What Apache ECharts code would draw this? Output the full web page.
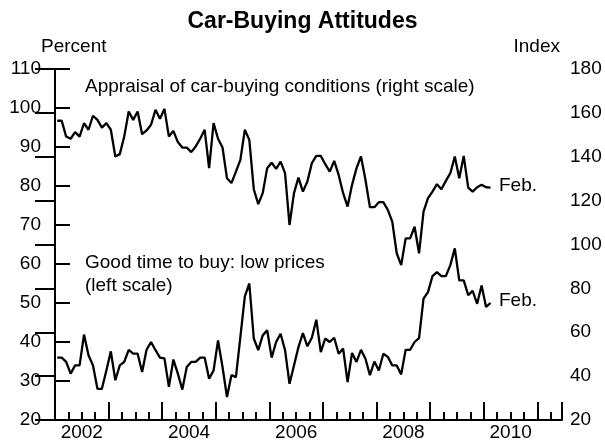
<!DOCTYPE html>
<html>
<head>
<meta charset="utf-8">
<script src="https://cdn.jsdelivr.net/npm/echarts@6/dist/echarts.min.js"></script>
<style>
html,body{margin:0;padding:0;background:#fff;}
#c{width:605px;height:442px;}
</style>
</head>
<body>
<div id="c"></div>
<script>
// Monthly observations, Jan 2002 .. Feb 2010
const startYear = 2002;
const appraisal = [
  156.4,156.4,149.2,148.2,151.2,149.2,155.3,152.3,158.7,156.8,153.3,155.3,
  152.3,140.1,141.2,149.2,160.6,156.8,160.6,150.3,152.0,154.6,161.4,157.3,
  161.8,149.2,151.8,146.7,144.2,144.2,142.1,144.7,148.2,152.3,134.8,155.3,
  148.2,144.2,130.2,128.0,133.2,138.6,152.3,147.7,125.2,118.4,123.4,134.8,
  137.3,134.5,137.8,132.5,108.9,123.4,130.5,124.1,128.7,137.1,140.4,140.4,
  136.6,133.2,138.1,131.7,123.4,117.3,127.2,134.8,140.1,129.5,117.0,117.0,
  119.3,119.3,115.8,110.4,96.0,90.6,102.8,102.8,108.1,96.0,115.0,121.1,
  124.1,127.5,125.2,129.0,132.5,140.1,130.2,140.4,125.9,124.1,126.1,127.2,
  126.1,125.9
];
const lowPrices = [
  36.0,36.0,34.9,31.9,34.0,34.0,41.9,36.6,34.0,28.0,28.0,32.7,
  37.6,30.2,34.0,34.9,38.0,37.0,37.0,32.3,38.0,40.0,37.9,36.0,
  35.8,28.5,35.5,31.9,27.8,33.6,34.9,34.9,36.0,36.0,30.6,32.7,
  40.4,33.6,25.9,31.5,31.0,41.3,51.7,55.0,40.9,37.9,41.7,43.0,
  36.0,40.0,42.1,37.9,29.3,34.0,38.7,42.3,38.9,41.1,45.7,37.4,
  40.9,40.0,41.1,37.0,38.3,29.7,37.2,34.9,38.0,35.7,31.5,35.0,
  32.7,37.0,36.2,34.0,34.0,31.7,38.0,38.0,40.0,41.0,51.1,52.8,
  56.9,57.9,56.9,56.9,59.7,64.0,55.8,55.8,52.0,53.1,49.8,54.5,
  49.0,50.0
];
const months = appraisal.map((_, i) => {
  const y = startYear + Math.floor(i / 12), m = (i % 12) + 1;
  return y + '-' + (m < 10 ? '0' + m : m);
});
const xTickLabels = ['2002','2004','2006','2008','2010'];
const leftTicks = [20,30,40,50,60,70,80,90,100,110];
const rightTicks = [20,40,60,80,100,120,140,160,180];

const FONT = 'Liberation Sans, Arial, Helvetica, sans-serif';
const xMax = 113.5;
const monthPos = i => i + 0.5;
const appraisalData = appraisal.map((v, i) => [monthPos(i), v]);
const lowData = lowPrices.map((v, i) => [monthPos(i), v]);

const blk = '#000';
const FS = 19;
const xBase = {type: 'value', min: 0, max: xMax, gridIndex: 0, position: 'bottom', splitLine: {show: false}};

const chart = echarts.init(document.getElementById('c'), null, {renderer: 'canvas'});
chart.setOption({
  animation: false,
  backgroundColor: '#fff',
  title: {
    text: 'Car-Buying Attitudes', left: 'center', top: 5,
    textStyle: {fontFamily: FONT, fontWeight: 'bold', fontSize: 23, color: blk}
  },
  grid: {left: 55, right: 43, top: 69, bottom: 22, containLabel: false},
  xAxis: [
    Object.assign({}, xBase, {
      interval: 3,
      axisLine: {show: true, lineStyle: {color: blk, width: 2}},
      axisTick: {show: true, inside: true, length: 8, lineStyle: {color: blk, width: 2}},
      axisLabel: {show: false}
    }),
    Object.assign({}, xBase, {
      interval: 12,
      axisLine: {show: false},
      axisTick: {show: true, inside: true, length: 18, lineStyle: {color: blk, width: 2}},
      axisLabel: {show: false}
    }),
    Object.assign({}, xBase, {
      interval: 6,
      axisLine: {show: false},
      axisTick: {show: false},
      axisLabel: {
        show: true, margin: 3, color: blk, fontFamily: FONT, fontSize: FS,
        showMinLabel: true, showMaxLabel: false,
        formatter: v => {
          const k = (v - 6) / 24;
          if (Math.abs(k - Math.round(k)) < 1e-6 && k >= 0) {
            return xTickLabels[Math.round(k)] || '';
          }
          return '';
        }
      }
    })
  ],
  yAxis: [
    {
      type: 'value', min: leftTicks[0], max: leftTicks[leftTicks.length - 1], interval: 10, position: 'left',
      axisLine: {show: true, lineStyle: {color: blk, width: 2}},
      axisTick: {show: true, inside: true, length: 15, lineStyle: {color: blk, width: 2}},
      axisLabel: {margin: 14, color: blk, fontFamily: FONT, fontSize: FS},
      splitLine: {show: false}
    },
    {
      type: 'value', min: rightTicks[0], max: rightTicks[rightTicks.length - 1], interval: 20, position: 'right',
      axisLine: {show: true, lineStyle: {color: blk, width: 2}},
      axisTick: {show: true, inside: true, length: 20, lineStyle: {color: blk, width: 2}},
      axisLabel: {margin: 8, color: blk, fontFamily: FONT, fontSize: FS},
      splitLine: {show: false}
    }
  ],
  series: [
    {
      name: 'Appraisal of car-buying conditions', type: 'line', xAxisIndex: 0, yAxisIndex: 1,
      data: appraisalData, showSymbol: false, symbol: 'none',
      lineStyle: {color: blk, width: 2.3}, z: 5
    },
    {
      name: 'Good time to buy: low prices', type: 'line', xAxisIndex: 0, yAxisIndex: 0,
      data: lowData, showSymbol: false, symbol: 'none',
      lineStyle: {color: blk, width: 2.3}, z: 5
    }
  ],
  graphic: [
    {type: 'text', left: 41, top: 37, style: {text: 'Percent', font: FS + 'px ' + FONT, fill: blk}},
    {type: 'text', right: 45, top: 37, style: {text: 'Index', font: FS + 'px ' + FONT, fill: blk}},
    {type: 'text', left: 85, top: 77, style: {text: 'Appraisal of car-buying conditions (right scale)', font: FS + 'px ' + FONT, fill: blk}},
    {type: 'text', left: 85, top: 253, style: {text: 'Good time to buy: low prices', font: FS + 'px ' + FONT, fill: blk}},
    {type: 'text', left: 85, top: 276, style: {text: '(left scale)', font: FS + 'px ' + FONT, fill: blk}},
    {type: 'text', left: 499, top: 176, style: {text: 'Feb.', font: FS + 'px ' + FONT, fill: blk}},
    {type: 'text', left: 499, top: 291, style: {text: 'Feb.', font: FS + 'px ' + FONT, fill: blk}}
  ]
});
</script>
</body>
</html>
